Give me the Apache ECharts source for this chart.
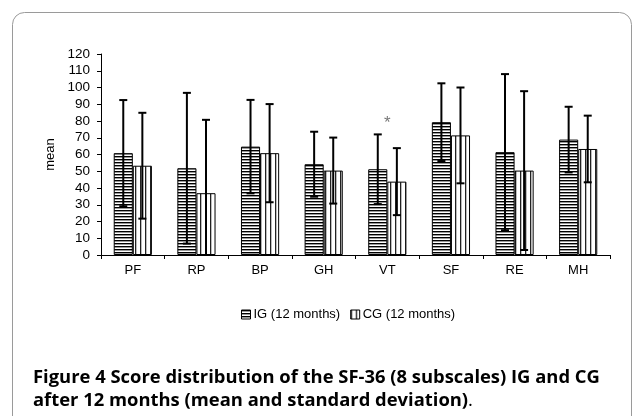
<!DOCTYPE html>
<html><head><meta charset="utf-8">
<script src="https://cdn.jsdelivr.net/npm/echarts@6/dist/echarts.min.js"></script>
<style>html,body{margin:0;padding:0;background:#fff}#c{width:639px;height:416px}</style>
</head><body><div id="c"></div>
<script>
const categories = ['PF','RP','BP','GH','VT','SF','RE','MH'];
const igMean = [60.8, 51.8, 64.7, 54.2, 51.2, 79.3, 61.4, 68.9];
const igSd   = [31.7, 45.0, 27.9, 19.4, 20.8, 23.2, 46.6, 19.6];
const cgMean = [53.3, 36.9, 60.8, 50.4, 43.8, 71.4, 50.4, 63.3];
const cgSd   = [31.6, 43.8, 29.3, 19.7, 20.0, 28.6, 47.4, 19.9];
const asterisk = [null, null, null, null, 81, null, null, null];
const yTicks = {min: 0, max: 120, interval: 10};

function makePattern(horizontal) {
  const c = document.createElement('canvas');
  if (horizontal) {
    c.width = 4; c.height = 3;
    const g = c.getContext('2d');
    g.fillStyle = '#fff'; g.fillRect(0,0,4,3);
    g.fillStyle = '#000'; g.fillRect(0,0,4,1.4);
  } else {
    c.width = 5; c.height = 4;
    const g = c.getContext('2d');
    g.fillStyle = '#fff'; g.fillRect(0,0,5,4);
    g.fillStyle = '#222'; g.fillRect(0,0,1.3,4);
  }
  return c;
}
const igPat = {image: makePattern(true), repeat: 'repeat'};
const cgPat = {image: makePattern(false), repeat: 'repeat'};

const chart = echarts.init(document.getElementById('c'), null, {renderer: 'canvas'});
const CAT_GAP = 0.40;

function errorRender(sdArr, meanArr, side) {
  return function (params, api) {
    const i = api.value(0);
    const m = meanArr[i], s = sdArr[i];
    const catW = api.size([1, 0])[0];
    const bw = catW * (1 - CAT_GAP) / 2;
    const c = api.coord([i, m]);
    const x = c[0] + side * bw / 2;
    const hiV = m + s, loV = Math.max(0, m - s);
    const hi = api.coord([i, hiV])[1];
    const lo = api.coord([i, loV])[1];
    const cap = 4;
    const style = {stroke: '#000', lineWidth: 2};
    const children = [
      {type: 'line', shape: {x1: x, y1: hi, x2: x, y2: lo}, style: style},
      {type: 'line', shape: {x1: x - cap, y1: hi, x2: x + cap, y2: hi}, style: style}
    ];
    if (m - s > 0) children.push({type: 'line', shape: {x1: x - cap, y1: lo, x2: x + cap, y2: lo}, style: style});
    return {type: 'group', children: children};
  };
}

const option = {
  animation: false,
  backgroundColor: '#fff',
  textStyle: {fontFamily: 'Liberation Sans, Arial, sans-serif'},
  grid: {left: 101, right: 29, top: 54, bottom: 161},
  legend: {
    data: ['IG (12 months)', 'CG (12 months)'],
    left: 236, top: 303, itemWidth: 9, itemHeight: 9, itemGap: 10,
    icon: 'rect',
    textStyle: {fontSize: 13, color: '#000', fontFamily: 'Liberation Sans, Arial, sans-serif', padding: [0, 0, 0, -2]},
    itemStyle: {borderColor: '#000', borderWidth: 1}
  },
  xAxis: {
    type: 'category', data: categories,
    axisLine: {lineStyle: {color: '#000', width: 1}},
    axisTick: {show: true, length: 4, lineStyle: {color: '#000'}},
    axisLabel: {color: '#000', fontSize: 13, margin: 9}
  },
  yAxis: {
    type: 'value', min: yTicks.min, max: yTicks.max, interval: yTicks.interval,
    name: 'mean', nameLocation: 'middle', nameGap: 39, nameRotate: 90,
    nameTextStyle: {color: '#000', fontSize: 13},
    axisLine: {show: true, lineStyle: {color: '#000'}},
    axisTick: {show: true, length: 4, lineStyle: {color: '#000'}},
    axisLabel: {color: '#000', fontSize: 13.5, margin: 11},
    splitLine: {show: false}
  },
  title: {
    text: '{b|Figure 4 Score distribution of the SF-36 (8 subscales) IG and CG}\n{b|after 12 months (mean and standard deviation)}{r|.}',
    left: 28, top: 361,
    textStyle: {
      rich: {
        b: {fontFamily: 'Open Sans', fontWeight: 'bold', fontSize: 18.4, color: '#000', lineHeight: 23},
        r: {fontFamily: 'Open Sans', fontWeight: 'normal', fontSize: 18.4, color: '#000', lineHeight: 23}
      }
    }
  },
  graphic: [{
    type: 'rect', shape: {x: 12.5, y: 12.5, width: 619, height: 430, r: 12},
    style: {fill: 'none', stroke: '#9a9a9a', lineWidth: 1}, z: -1
  }],
  series: [
    {name: 'IG (12 months)', type: 'bar', data: igMean, barGap: '0%', barCategoryGap: '40%',
     itemStyle: {color: igPat, borderColor: '#000', borderWidth: 1}},
    {name: 'CG (12 months)', type: 'bar', data: cgMean, barGap: '0%', barCategoryGap: '40%',
     itemStyle: {color: cgPat, borderColor: '#000', borderWidth: 1}},
    {type: 'custom', data: categories.map((c, i) => [i]), renderItem: errorRender(igSd, igMean, -1), z: 10},
    {type: 'custom', data: categories.map((c, i) => [i]), renderItem: errorRender(cgSd, cgMean, 1), z: 10},
    {type: 'scatter', data: asterisk, symbolSize: 0, silent: true,
     label: {show: true, formatter: '*', color: '#555', fontSize: 17, position: 'inside', offset: [0, 4]}}
  ]
};
chart.setOption(option);
</script></body></html>
